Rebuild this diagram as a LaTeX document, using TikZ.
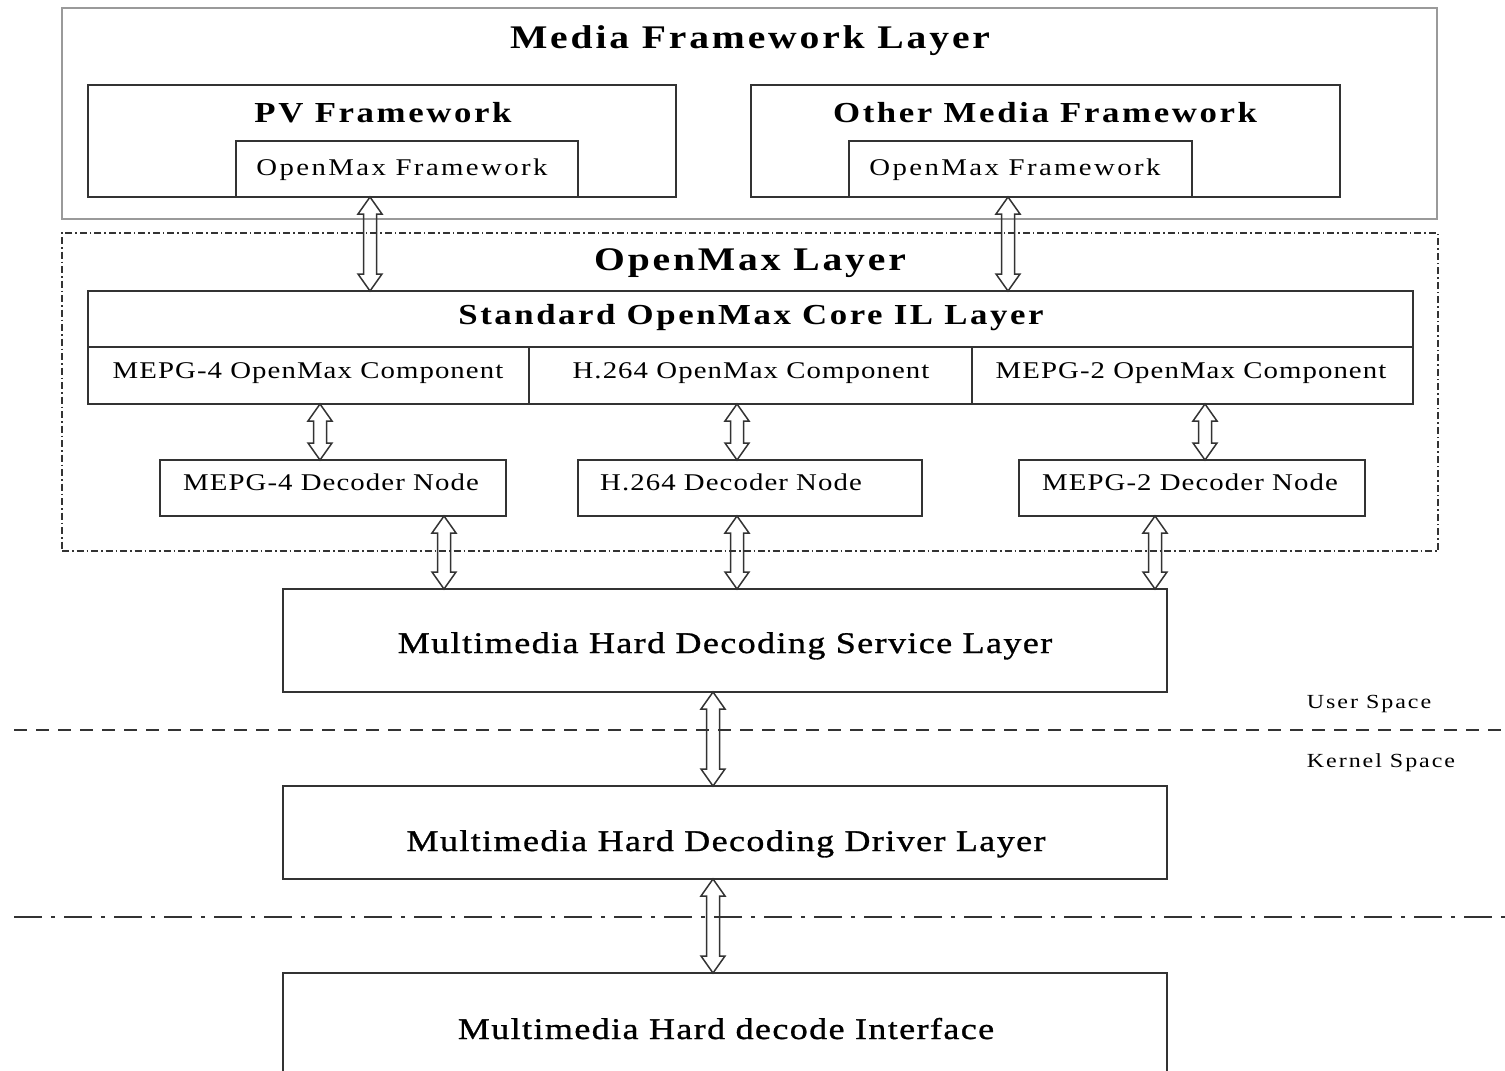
\documentclass[tikz,border=0pt]{standalone}
\usepackage{fontspec}
\setmainfont{Liberation Serif}
\usetikzlibrary{calc}

% font shortcuts for the different label kinds
\newcommand\fTitle{\fontsize{33}{36}\selectfont\bfseries\addfontfeatures{FakeStretch=1.2,LetterSpace=8.6}}
\newcommand\fSub{\fontsize{29}{32}\selectfont\bfseries\addfontfeatures{FakeStretch=1.2,LetterSpace=9}}
\newcommand\fCore{\fontsize{29}{32}\selectfont\bfseries\addfontfeatures{FakeStretch=1.2,LetterSpace=8.8}}
\newcommand\fReg{\fontsize{24}{27}\selectfont\addfontfeatures{FakeStretch=1.2,LetterSpace=4.5}}
\newcommand\fOmx{\fontsize{24}{27}\selectfont\addfontfeatures{FakeStretch=1.2,LetterSpace=10}}
\newcommand\fBig{\fontsize{30}{33}\selectfont\addfontfeatures{FakeStretch=1.2,LetterSpace=4.7,FakeBold=1}}
\newcommand\fSmall{\fontsize{20}{23}\selectfont\addfontfeatures{FakeStretch=1.2,LetterSpace=9.8}}

\definecolor{edge}{HTML}{333333}
\definecolor{frame}{HTML}{9A9A9A}

\tikzset{
  box/.style={draw=edge, line width=1.8pt, inner sep=0pt, outer sep=0pt, anchor=north west},
  graybox/.style={draw=frame, line width=1.6pt, inner sep=0pt, outer sep=0pt, anchor=north west},
  dashbox/.style={draw=edge, line width=1.2pt, inner sep=0pt, outer sep=0pt, anchor=north west,
    dash pattern=on 7pt off 3pt on 1.5pt off 3pt},
  lbl/.style={inner sep=0pt, anchor=base, text=black},
  harrow/.style={draw=edge, line width=1.5pt, line join=miter},
  spaceline/.style={draw=edge, line width=2.4pt, dash pattern=on 13pt off 9pt},
  ringline/.style={draw=edge, line width=2.4pt, dash pattern=on 28pt off 9pt on 4pt off 9pt},
}

% hollow double-headed arrow from the bottom of #1 to the top of #2 at x = #3
\newcommand\hollowarrow[3]{%
  \draw[harrow] let \p1=(#1.south), \p2=(#2.north) in
    (#3pt,\y1) -- (#3pt+12pt,\y1-17pt) -- (#3pt+6.5pt,\y1-17pt)
    -- (#3pt+6.5pt,\y2+17pt) -- (#3pt+12pt,\y2+17pt) -- (#3pt,\y2)
    -- (#3pt-12pt,\y2+17pt) -- (#3pt-6.5pt,\y2+17pt)
    -- (#3pt-6.5pt,\y1-17pt) -- (#3pt-12pt,\y1-17pt) -- cycle;}

\begin{document}
\begin{tikzpicture}[x=1pt, y=-1pt]
\useasboundingbox (0,0) rectangle (1505,1071);

% ---- media framework layer ----
\node[graybox, minimum width=1375pt, minimum height=211pt] (mfl) at (62,8) {};
\node[lbl] (mfltxt) at (750,48) {\fTitle Media Framework Layer};

\node[box, minimum width=588pt, minimum height=112pt] (pv) at (88,85) {};
\node[lbl] (pvtxt) at (383,122) {\fSub PV Framework};
\node[box, minimum width=342pt, minimum height=56pt] (pvomx) at (236,141) {};
\node[lbl] (pvomxtxt) at (402,175) {\fOmx OpenMax Framework};

\node[box, minimum width=589pt, minimum height=112pt] (omf) at (751,85) {};
\node[lbl] (omftxt) at (1045,122) {\fSub Other Media Framework};
\node[box, minimum width=343pt, minimum height=56pt] (omfomx) at (849,141) {};
\node[lbl] (omfomxtxt) at (1015,175) {\fOmx OpenMax Framework};

% ---- openmax layer ----
\node[dashbox, minimum width=1376pt, minimum height=318pt] (oml) at (62,233) {};
\node[lbl] (omltxt) at (750,270) {\fTitle OpenMax Layer};

\node[box, minimum width=1325pt, minimum height=113pt] (core) at (88,291) {};
\node[lbl] (coretxt) at (751,324) {\fCore Standard OpenMax Core IL Layer};

\node[box, minimum width=441pt, minimum height=57pt] (comp4) at (88,347) {};
\node[box, minimum width=443pt, minimum height=57pt] (comph) at (529,347) {};
\node[box, minimum width=441pt, minimum height=57pt] (comp2) at (972,347) {};
\node[lbl] (comp4txt) at (308,378) {\fReg MEPG-4 OpenMax Component};
\node[lbl] (comphtxt) at (751,378) {\fReg H.264 OpenMax Component};
\node[lbl] (comp2txt) at (1191,378) {\fReg MEPG-2 OpenMax Component};

\node[box, minimum width=346pt, minimum height=56pt] (dec4) at (160,460) {};
\node[box, minimum width=344pt, minimum height=56pt] (dech) at (578,460) {};
\node[box, minimum width=346pt, minimum height=56pt] (dec2) at (1019,460) {};
\node[lbl] (dec4txt) at (331,490) {\fReg MEPG-4 Decoder Node};
\node[lbl] (dechtxt) at (731,490) {\fReg H.264 Decoder Node};
\node[lbl] (dec2txt) at (1190,490) {\fReg MEPG-2 Decoder Node};

% ---- lower layers ----
\node[box, minimum width=884pt, minimum height=103pt] (svc) at (283,589) {};
\node[lbl] (svctxt) at (725,653) {\fBig Multimedia Hard Decoding Service Layer};

\node[box, minimum width=884pt, minimum height=93pt] (drv) at (283,786) {};
\node[lbl] (drvtxt) at (726,851) {\fBig Multimedia Hard Decoding Driver Layer};

\node[box, minimum width=884pt, minimum height=117pt] (ifc) at (283,973) {};
\node[lbl] (ifctxt) at (726,1039) {\fBig Multimedia Hard decode Interface};

% ---- user / kernel boundary and hardware boundary ----
\coordinate (ul) at (14,730);
\coordinate (ur) at (1505,730);
\draw[spaceline] (ul) -- (ur);
\coordinate (kl) at (14,917);
\coordinate (kr) at (1505,917);
\draw[ringline] (kl) -- (kr);
\node[lbl] (user) at (1369,708) {\fSmall User Space};
\node[lbl] (kernel) at (1381,767) {\fSmall Kernel Space};

% ---- connectors ----
\hollowarrow{pvomx}{core}{370}
\hollowarrow{omfomx}{core}{1008}
\hollowarrow{comp4}{dec4}{320}
\hollowarrow{comph}{dech}{737}
\hollowarrow{comp2}{dec2}{1205}
\hollowarrow{dec4}{svc}{444}
\hollowarrow{dech}{svc}{737}
\hollowarrow{dec2}{svc}{1155}
\hollowarrow{svc}{drv}{713}
\hollowarrow{drv}{ifc}{713}
\end{tikzpicture}
\end{document}
